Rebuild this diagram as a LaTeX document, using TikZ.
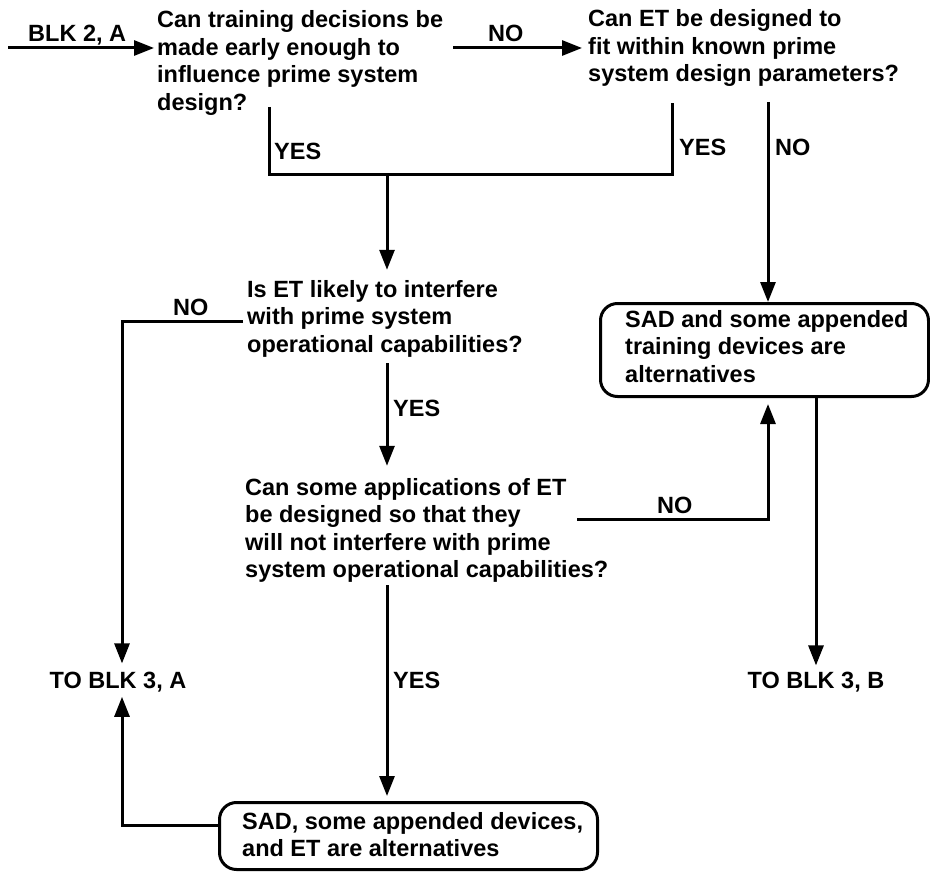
\documentclass[tikz,border=0pt]{standalone}
\usepackage{fontspec}
\setmainfont{Liberation Sans}
\usetikzlibrary{arrows.meta}
% left-aligned stack of lines whose baseline is the first line
\newcommand\stk[1]{\vtop{\halign{##\hfil\cr#1\crcr}}}
\begin{document}
\begin{tikzpicture}[x=1pt,y=-1pt,
  txt/.style={anchor=base west, inner sep=0pt,
    font=\fontsize{23.5}{27.5}\selectfont\bfseries},
  ctxt/.style={txt, anchor=base},
  wire/.style={line width=3pt},
  flow/.style={wire, -{Triangle[length=20pt,width=15pt]}},
  altbox/.style={draw, line width=3pt, rounded corners=17pt,
    inner sep=0pt, anchor=north west}]
\useasboundingbox (0,0) rectangle (930,872);

% questions
\node[txt] (q1) at (157,28) {\stk{Can training decisions be\cr
  made early enough to\cr influence prime system\cr design?}};
\node[txt] (q2) at (588,27) {\stk{Can ET be designed to\cr
  fit within known prime\cr system design parameters?}};
\node[txt] (q3) at (247,297) {\stk{Is ET likely to interfere\cr
  with prime system\cr operational capabilities?}};
\node[txt] (q4) at (245,495) {\stk{Can some applications of ET\cr
  be designed so that they\cr will not interfere with prime\cr
  system operational capabilities?}};

% outcomes
\node[altbox, minimum width=328pt, minimum height=93pt] (sad) at (599,302) {};
\node[txt] (sadt) at (625,327) {\stk{SAD and some appended\cr
  training devices are\cr alternatives}};
\node[altbox, minimum width=378pt, minimum height=67pt] (alt) at (218,801) {};
\node[txt] (altt) at (242,829) {\stk{SAD, some appended devices,\cr
  and ET are alternatives}};
\node[ctxt] (toa) at (118,688) {TO BLK 3, A};
\node[ctxt] (tob) at (816,688) {TO BLK 3, B};

% branch labels
\node[txt] (lblk) at (28,42) {BLK 2, A};
\node[txt] (n1) at (488,42) {NO};
\node[txt] (y1) at (274,160) {YES};
\node[txt] (y2) at (679,156) {YES};
\node[txt] (n2) at (775,156) {NO};
\node[txt] (n3) at (173,315) {NO};
\node[txt] (y3) at (393,416) {YES};
\node[txt] (n4) at (657,513) {NO};
\node[txt] (y4) at (393,688) {YES};

% junction points
\coordinate (in) at (8,48);
\coordinate (ja) at (269,107);
\coordinate (jb) at (269,175);
\coordinate (jc) at (672,175);
\coordinate (jd) at (672,103);
\coordinate (jm) at (387,175);
\coordinate (je) at (768,102);
\coordinate (c3) at (122,321);
\coordinate (s3) at (387,363);
\coordinate (c4a) at (577,519);
\coordinate (c4b) at (768,519);
\coordinate (s4) at (387,585);
\coordinate (c5) at (122,825);

% connectors
\draw[flow, shorten >=3pt] (in) -- (in -| q1.west);
\draw[flow, shorten >=6pt] ([xshift=10pt]in -| q1.east) -- (in -| q2.west);
\draw[wire] (ja) -- (jb) -- (jc) -- (jd);
\draw[flow, shorten >=10pt] (jm) -- (jm |- q3.north);
\draw[flow] (je) -- (je |- sad.north);
\draw[flow, shorten >=8pt] ([xshift=-4pt]q3.west |- c3) -- (c3) -- (c3 |- toa.north);
\draw[flow, shorten >=12pt] (s3) -- (s3 |- q4.north);
\draw[flow, shorten >=6pt] (c4a) -- (c4b) -- (c4b |- sad.south);
\draw[flow, shorten >=5pt] (s4) -- (s4 |- alt.north);
\draw[flow, shorten >=5pt] (alt.west |- c5) -- (c5) -- (c5 |- toa.south);
\draw[flow, shorten >=6pt] (sad.south -| tob) -- (tob.north);
\end{tikzpicture}
\end{document}
